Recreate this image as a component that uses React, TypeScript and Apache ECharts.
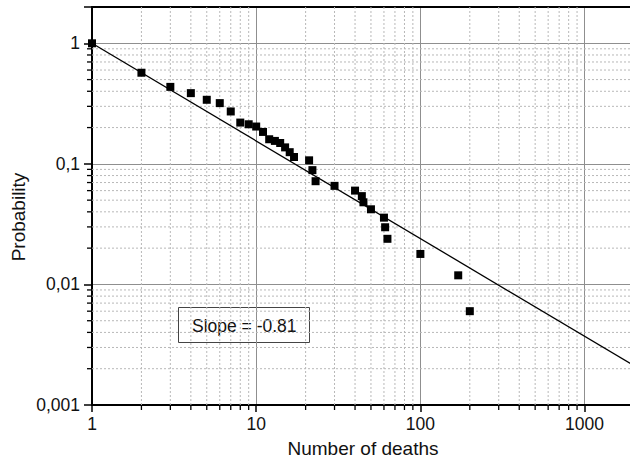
import React, { useEffect, useRef } from "react";
import * as echarts from "echarts";

// Observed data (number of deaths vs. probability)
const deaths = [1, 2, 3, 4, 5, 6, 7, 8, 9, 10, 11, 12, 13, 14, 15, 16, 17, 21, 22, 23, 30, 40, 44, 45, 50, 60, 61, 63, 100, 170, 200];
const probability = [1, 0.57, 0.435, 0.386, 0.34, 0.319, 0.272, 0.22, 0.213, 0.204, 0.184, 0.16, 0.155, 0.149, 0.137, 0.125, 0.114, 0.107, 0.0887, 0.0718, 0.0657, 0.06, 0.054, 0.048, 0.042, 0.0358, 0.0298, 0.0239, 0.0179, 0.0119, 0.006];

// Fitted power law (slope -0.81)
const fitX = [1, 2000];
const fitY = [1, 0.00212];

// Axis ranges and minor tick values
const X_MIN = 1;
const X_MAX = 2000;
const Y_MIN = 0.001;
const Y_MAX = 2;
const xMinor = [2, 3, 4, 5, 6, 7, 8, 9, 20, 30, 40, 50, 60, 70, 80, 90, 200, 300, 400, 500, 600, 700, 800, 900];
const yMinor = [0.002, 0.003, 0.004, 0.005, 0.006, 0.007, 0.008, 0.009, 0.02, 0.03, 0.04, 0.05, 0.06, 0.07, 0.08, 0.09, 0.2, 0.3, 0.4, 0.5, 0.6, 0.7, 0.8, 0.9];

const FONT = "'Liberation Sans', Arial, Helvetica, sans-serif";

function powLabel(v: number): string {
  const l = Math.log10(v);
  const e = Math.round(l);
  if (Math.abs(l - e) > 1e-6) return "";
  if (e >= 0) return String(Math.pow(10, e));
  return "0," + "0".repeat(-e - 1) + "1";
}

export default function App() {
  const ref = useRef<HTMLDivElement>(null);
  useEffect(() => {
    if (!ref.current) return;
    const chart = echarts.init(ref.current, undefined, { renderer: "svg" });
    const axisText = { fontFamily: FONT, fontSize: 17.5, color: "#111" };
    chart.setOption({
      animation: false,
      backgroundColor: "#fff",
      grid: {
        left: 92,
        top: 7,
        width: 542,
        height: 398,
        containLabel: false,
        outerBoundsMode: "none",
      },
      xAxis: [
        {
          type: "log",
          logBase: 10,
          min: X_MIN,
          max: X_MAX,
          name: "Number of deaths",
          nameLocation: "middle",
          nameGap: 34,
          nameTextStyle: { fontFamily: FONT, fontSize: 19, color: "#111" },
          axisLine: { lineStyle: { color: "#000", width: 2 } },
          axisTick: { inside: false, length: 7, lineStyle: { color: "#000", width: 1.5 } },
          axisLabel: { ...axisText, margin: 10, formatter: (v: number) => powLabel(v) },
          splitLine: { show: true, lineStyle: { color: "#8f8f8f", width: 1 } },
        },
        {
          type: "log",
          logBase: 10,
          min: X_MIN,
          max: X_MAX,
          position: "top",
          axisLine: { lineStyle: { color: "#000", width: 2 } },
          axisTick: { show: false },
          axisLabel: { show: false },
          splitLine: { show: false },
        },
      ],
      yAxis: {
        type: "log",
        logBase: 10,
        min: Y_MIN,
        max: Y_MAX,
        axisLine: { lineStyle: { color: "#000", width: 2 } },
        axisTick: { inside: false, length: 8, lineStyle: { color: "#000", width: 1.5 } },
        axisLabel: { ...axisText, margin: 12, formatter: (v: number) => powLabel(v) },
        splitLine: { show: true, lineStyle: { color: "#8f8f8f", width: 1 } },
      },
      graphic: [
        {
          type: "text",
          x: 18,
          y: 217,
          rotation: Math.PI / 2,
          style: {
            text: "Probability",
            fontFamily: FONT,
            fontSize: 19,
            fill: "#111",
            align: "center",
            verticalAlign: "middle",
          },
          z: 10,
        },
        {
          type: "group",
          z: 10,
          children: [
            {
              type: "rect",
              shape: { x: 178.5, y: 307.5, width: 131, height: 35 },
              style: { fill: "#fff", stroke: "#444", lineWidth: 1 },
            },
            {
              type: "text",
              x: 192,
              y: 325.5,
              style: {
                text: "Slope = -0.81",
                fontFamily: FONT,
                fontSize: 17.5,
                fill: "#111",
                verticalAlign: "middle",
              },
            },
          ],
        },
      ],
      series: [
        {
          type: "custom",
          xAxisIndex: 0,
          coordinateSystem: "cartesian2d",
          silent: true,
          z: 1,
          data: xMinor.map((v) => [v, 1]),
          renderItem: (params: any, api: any) => {
            const v = api.value(0);
            const top = api.coord([v, Y_MAX]);
            const bot = api.coord([v, Y_MIN]);
            return {
              type: "group",
              children: [
                {
                  type: "line",
                  shape: { x1: bot[0], y1: top[1], x2: bot[0], y2: bot[1] },
                  style: { stroke: "#b8b8b8", lineWidth: 1, lineDash: [2, 2] },
                },
                {
                  type: "line",
                  shape: { x1: bot[0], y1: bot[1], x2: bot[0], y2: bot[1] + 5 },
                  style: { stroke: "#000", lineWidth: 1.3 },
                },
              ],
            };
          },
        },
        {
          type: "custom",
          xAxisIndex: 0,
          coordinateSystem: "cartesian2d",
          silent: true,
          z: 1,
          data: yMinor.map((v) => [1, v]),
          renderItem: (params: any, api: any) => {
            const v = api.value(1);
            const left = api.coord([X_MIN, v]);
            const right = api.coord([X_MAX, v]);
            return {
              type: "group",
              children: [
                {
                  type: "line",
                  shape: { x1: left[0], y1: left[1], x2: right[0], y2: left[1] },
                  style: { stroke: "#b8b8b8", lineWidth: 1, lineDash: [2, 2] },
                },
                {
                  type: "line",
                  shape: { x1: left[0] - 5, y1: left[1], x2: left[0], y2: left[1] },
                  style: { stroke: "#000", lineWidth: 1.3 },
                },
              ],
            };
          },
        },
        {
          type: "line",
          xAxisIndex: 0,
          data: fitX.map((x, i) => [x, fitY[i]]),
          showSymbol: false,
          symbol: "none",
          lineStyle: { color: "#000", width: 1.3 },
          z: 3,
        },
        {
          type: "scatter",
          xAxisIndex: 0,
          data: deaths.map((x, i) => [x, probability[i]]),
          symbol: "rect",
          symbolSize: 8,
          itemStyle: { color: "#000", opacity: 1 },
          z: 4,
        },
      ],
    });
    return () => chart.dispose();
  }, []);
  return (
    <div
      ref={ref}
      style={{ position: "absolute", left: 0, top: 0, width: 630, height: 465 }}
    />
  );
}
